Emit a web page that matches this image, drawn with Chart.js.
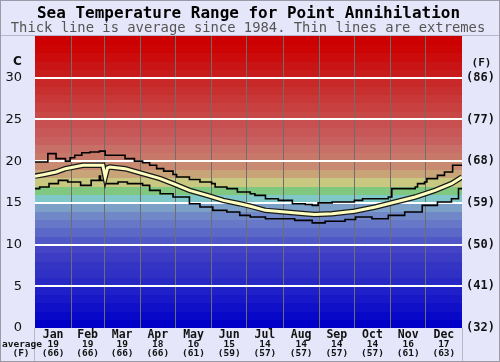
<!DOCTYPE html>
<html><head><meta charset="utf-8">
<script src="https://cdn.jsdelivr.net/npm/chart.js@4/dist/chart.umd.min.js"></script>
<style>html,body{margin:0;padding:0;background:#e6e6fa;}canvas{display:block}</style>
</head><body>
<canvas id="c" width="500" height="362"></canvas>
<script>
// ---- data ----
const months = ['Jan','Feb','Mar','Apr','May','Jun','Jul','Aug','Sep','Oct','Nov','Dec'];
const monthStartDays = [0,31,59,90,120,151,181,212,243,273,304,334,365];
const monthAvgC = ['19','19','19','18','16','15','14','14','14','14','16','17'];
const monthAvgF = ['(66)','(66)','(66)','(66)','(61)','(59)','(57)','(57)','(57)','(57)','(61)','(63)'];

const avgDays = [0,8,18,26,41,55,58,60,62,64,77,92,107,118,132,147,161,175,184,197,214,231,239,254,273,291,308,325,342,356,365];
const avgVals = [18.2,18.4,18.7,19.1,19.5,19.5,19.5,18.1,19.2,19.3,19.1,18.5,17.9,17.3,16.5,15.9,15.3,14.9,14.6,14.1,13.9,13.7,13.6,13.7,14.0,14.5,15.1,15.7,16.5,17.3,18.1];

const maxDays = [0,11,18,26,30,34,40,47,55,60,68,77,85,92,98,104,110,118,121,132,141,151,154,164,173,184,188,197,208,220,231,237,242,254,265,273,280,302,305,325,327,333,335,344,350,357,365];
const maxVals = [19.9,20.9,20.3,20.0,20.4,20.7,21.0,21.1,21.2,20.7,20.7,20.3,20.0,19.8,19.5,19.1,18.8,18.4,18.1,17.8,17.5,17.3,16.9,16.7,16.3,16.1,15.9,15.5,15.3,14.9,14.8,14.7,15.0,15.1,15.1,15.3,15.5,15.7,16.7,16.9,17.3,17.5,17.9,18.3,18.7,19.5,19.6];

const minDays = [0,4,12,20,28,39,48,55,56,60,71,79,92,98,107,118,132,141,152,164,175,184,197,222,237,248,265,274,288,302,316,331,344,356,362,365];
const minVals = [16.7,16.9,17.3,17.7,17.5,17.1,17.7,18.2,17.7,17.3,17.5,17.3,17.1,16.5,16.1,15.7,14.9,14.5,14.1,13.9,13.5,13.3,13.1,12.9,12.6,12.8,13.0,13.3,13.1,13.5,13.9,14.7,15.1,15.5,16.7,16.7];

// one colour per 1 °C band, from 0-1 up to 34-35
const bandColors = ['#0000c8','#0808c8','#1010c8','#1818c8','#2020c8',
  '#2828c4','#3030c4','#3434c4','#3c3cc4','#4444c4',
  '#5058c8','#5c68c8','#6878c8','#7088c8','#7ca0c8',
  '#80c8c8','#80c880','#c8c880','#c8a478','#c88a70',
  '#c87868','#c87068','#c86060','#c85858','#c85050',
  '#c84848','#c84040','#c83838','#c83030','#c82828',
  '#c81c1c','#c81414','#cc0c0c','#cc0404','#cc0000'];

const pts = (d, v) => d.map((x, i) => ({x: x, y: v[i]}));

function fitText(c, txt, weight, family, baseSize, targetW, x, y) {
  c.font = weight + ' ' + baseSize + 'px ' + family;
  const w = c.measureText(txt).width;
  const s = baseSize * targetW / w;
  c.font = weight + ' ' + s.toFixed(2) + 'px ' + family;
  c.fillText(txt, x, y);
}

const deco = {
  id: 'deco',
  beforeDraw(chart) {
    const c = chart.ctx, a = chart.chartArea, y = chart.scales.y;
    c.save();
    c.fillStyle = '#e6e6fa';
    c.fillRect(0, 0, chart.width, chart.height);
    bandColors.forEach((col, i) => {
      const t = y.getPixelForValue(i + 1), b = y.getPixelForValue(i);
      c.fillStyle = col;
      c.fillRect(a.left, Math.floor(t), a.right - a.left, Math.ceil(b) - Math.floor(t));
    });
    c.restore();
  },
  afterDraw(chart) {
    const c = chart.ctx, a = chart.chartArea, x = chart.scales.x;
    c.save();
    // frame lines
    c.strokeStyle = '#b8b8c8'; c.lineWidth = 1;
    c.beginPath();
    c.moveTo(0, a.top - 0.5); c.lineTo(chart.width, a.top - 0.5);
    c.moveTo(a.left - 0.5, a.bottom); c.lineTo(a.left - 0.5, chart.height);
    c.moveTo(a.right + 0.5, a.bottom); c.lineTo(a.right + 0.5, chart.height);
    c.stroke();
    c.strokeStyle = '#9a9aa8';
    c.strokeRect(0.5, 0.5, chart.width - 1, chart.height - 1);
    // titles
    c.fillStyle = '#000'; c.textAlign = 'center'; c.textBaseline = 'alphabetic';
    fitText(c, 'Sea Temperature Range for Point Annihilation', 'bold', '"DejaVu Sans Mono", monospace', 16, 423, 248.5, 18);
    c.fillStyle = '#555';
    fitText(c, 'Thick line is average since 1984. Thin lines are extremes', 'normal', '"DejaVu Sans Mono", monospace', 14, 475, 248, 31.5);
    // axis headers
    c.fillStyle = '#111';
    c.font = 'bold 12px "DejaVu Sans"';
    c.fillText('C', 17.5, 65);
    c.font = 'bold 11px "DejaVu Sans Mono"';
    c.fillText('(F)', 481.5, 66);
    // month labels
    months.forEach((m, i) => {
      const px = x.getPixelForValue((monthStartDays[i] + monthStartDays[i + 1]) / 2);
      c.font = 'bold 11.5px "DejaVu Sans Mono"';
      c.fillText(m, px, 337.5);
      c.font = 'bold 9.5px "DejaVu Sans Mono"';
      c.fillText(monthAvgC[i], px, 347);
      c.fillText(monthAvgF[i], px, 355.5);
    });
    c.font = 'bold 9.5px "DejaVu Sans Mono"';
    c.fillText('average', 22, 347);
    c.fillText('(F)', 21, 355.5);
    c.restore();
  }
};

new Chart(document.getElementById('c'), {
  type: 'line',
  data: {
    datasets: [
      {label: 'average', data: pts(avgDays, avgVals), borderColor: '#ffffc0', borderWidth: 3, pointRadius: 0, tension: 0, fill: false},
      {label: 'average outline', data: pts(avgDays, avgVals), borderColor: '#1a1a1a', borderWidth: 5.5, pointRadius: 0, tension: 0, fill: false},
      {label: 'max', data: pts(maxDays, maxVals), borderColor: '#000', borderWidth: 1.6, pointRadius: 0, stepped: 'before', fill: false},
      {label: 'min', data: pts(minDays, minVals), borderColor: '#000', borderWidth: 1.6, pointRadius: 0, stepped: 'before', fill: false}
    ]
  },
  options: {
    responsive: false, animation: false, devicePixelRatio: 1,
    layout: {padding: {top: 36, left: 0, right: 0, bottom: 0}},
    plugins: {legend: {display: false}, tooltip: {enabled: false}},
    scales: {
      x: {
        type: 'linear', min: 0, max: 365,
        afterBuildTicks: s => { s.ticks = monthStartDays.slice(1, 12).map(v => ({value: v})); },
        ticks: {display: false},
        grid: {color: '#6e6e6e', lineWidth: 1, drawTicks: false},
        border: {display: false},
        afterFit: s => { s.height = 34; }
      },
      y: {
        position: 'left', min: 0, max: 35,
        ticks: {stepSize: 5, padding: 13, color: '#111', font: {family: 'DejaVu Sans', size: 13},
          callback: v => v >= 35 ? '' : String(v)},
        grid: {drawTicks: false, lineWidth: 2,
          color: c => (c.tick && c.tick.value > 0 && c.tick.value < 35) ? '#ffffff' : 'rgba(0,0,0,0)'},
        border: {display: false},
        afterFit: s => { s.width = 35; }
      },
      yF: {
        position: 'right', min: 0, max: 35,
        ticks: {stepSize: 5, padding: 4, color: '#111', font: {family: 'DejaVu Sans Mono', size: 12, weight: 'bold'},
          callback: v => v >= 35 ? '' : '(' + Math.round(v * 9 / 5 + 32) + ')'},
        grid: {display: false, drawTicks: false},
        border: {display: false},
        afterFit: s => { s.width = 38; }
      }
    }
  },
  plugins: [deco]
});
</script>
</body></html>
